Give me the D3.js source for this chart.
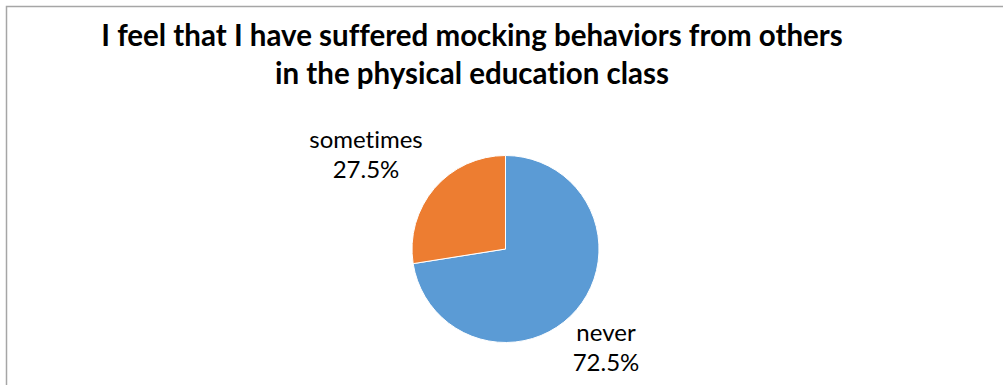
<!DOCTYPE html>
<html>
<head>
<meta charset="utf-8">
<script src="https://d3js.org/d3.v7.min.js"></script>
<style>
  html, body { margin: 0; padding: 0; background: #fff; }
  svg { display: block; }
  text { font-variant-ligatures: none; font-feature-settings: "liga" 0; }
</style>
</head>
<body>
<script>
// Responses to the survey item
const categories = ["never", "sometimes"];
const shares = [72.5, 27.5];
const colors = ["#5B9BD5", "#ED7D31"];
const titleLines = [
  "I feel that I have suffered mocking behaviors from others",
  "in the physical education class"
];

const W = 1003, H = 385;
const svg = d3.select("body").append("svg")
  .attr("width", W).attr("height", H);

// chart frame (open on right and bottom)
svg.append("path")
  .attr("d", `M6.5,${H} L6.5,6.5 L${W},6.5`)
  .attr("fill", "none")
  .attr("stroke", "#a6a6a6")
  .attr("stroke-width", 1.5);

const font = "Lato, Carlito, 'Open Sans', sans-serif";

// title
svg.append("g").selectAll("text")
  .data(titleLines)
  .join("text")
  .attr("x", 472)
  .attr("y", (d, i) => 46 + i * 38)
  .attr("text-anchor", "middle")
  .attr("font-family", font)
  .attr("font-weight", "bold")
  .attr("font-size", 29.5)
  .attr("fill", "#000")
  .text(d => d);

// pie
const cx = 505.5, cy = 249, r = 93.5;
const data = categories.map((c, i) => ({ name: c, value: shares[i], color: colors[i] }));
const pie = d3.pie().sort(null).value(d => d.value);
const arc = d3.arc().innerRadius(0).outerRadius(r);
const arcs = pie(data);

const g = svg.append("g").attr("transform", `translate(${cx},${cy})`);
g.selectAll("path")
  .data(arcs)
  .join("path")
  .attr("d", arc)
  .attr("fill", d => d.data.color)
  .attr("stroke", "#fff")
  .attr("stroke-width", 1);

// outside labels: name + percentage
const labelPos = { never: [606, 341], sometimes: [366, 148] };
const lg = svg.append("g");
arcs.forEach(a => {
  const [x, y] = labelPos[a.data.name];
  const t = lg.append("text")
    .attr("x", x).attr("y", y)
    .attr("text-anchor", "middle")
    .attr("font-family", font)
    .attr("font-size", 24)
    .attr("fill", "#000");
  t.append("tspan").attr("x", x).attr("dy", 0).text(a.data.name);
  t.append("tspan").attr("x", x).attr("dy", 30).text(d3.format(".1f")(a.data.value) + "%");
});
</script>
</body>
</html>
